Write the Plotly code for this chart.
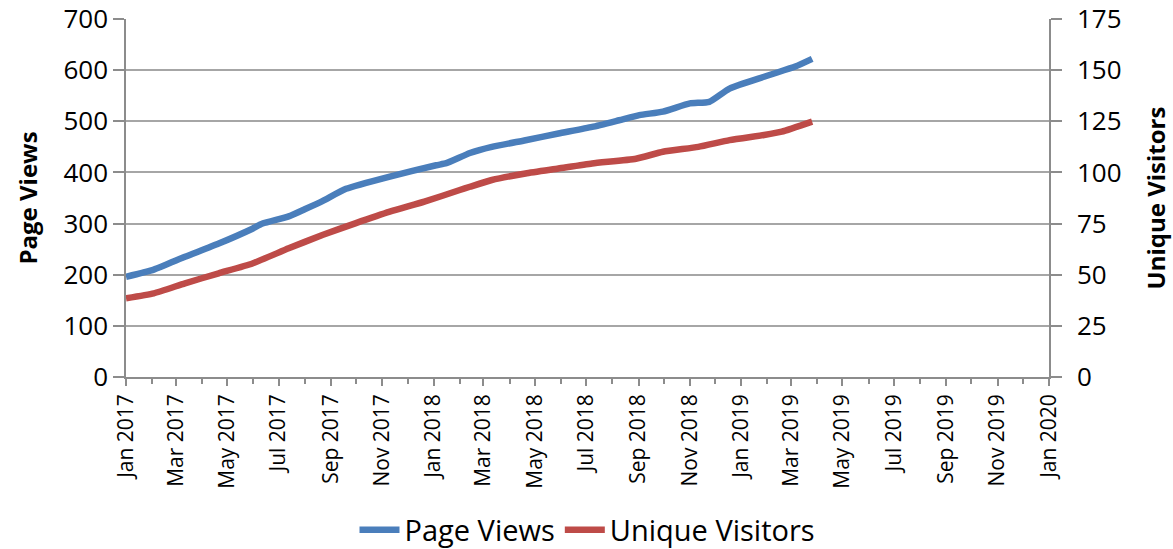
import plotly.graph_objects as go

# ---- data ----
pv_dates = ["2017-01-01", "2017-02-03", "2017-03-12", "2017-04-21", "2017-05-31",
            "2017-06-12", "2017-07-13", "2017-08-01", "2017-08-22", "2017-09-19",
            "2017-11-10", "2018-01-04", "2018-01-16", "2018-02-13", "2018-03-11",
            "2018-04-20", "2018-05-29", "2018-07-08", "2018-08-09", "2018-09-02",
            "2018-09-30", "2018-11-01", "2018-11-24", "2018-12-18", "2019-01-28",
            "2019-02-08", "2019-03-06", "2019-03-26"]
page_views = [196, 210, 235, 261, 290,
              300, 314, 328, 344, 368,
              392, 414, 418, 438, 450,
              463, 476, 489, 502, 512,
              519, 535, 538, 564, 587,
              593, 607, 622]

uv_dates = ["2017-01-01", "2017-02-03", "2017-03-12", "2017-04-21", "2017-05-31",
            "2017-07-13", "2017-08-22", "2017-09-30", "2017-11-10", "2017-12-21",
            "2018-02-01", "2018-02-13", "2018-03-11", "2018-04-20", "2018-05-29",
            "2018-07-08", "2018-08-29", "2018-09-30", "2018-11-11", "2018-12-18",
            "2019-01-28", "2019-02-18", "2019-03-26"]
unique_visitors = [38.5, 40.9, 45.8, 50.7, 55.5,
                   62.9, 69.4, 75.1, 80.8, 85.7,
                   91.4, 93.0, 96.3, 99.5, 101.9,
                   104.4, 106.7, 110.1, 112.5, 115.8,
                   118.3, 119.9, 124.8]

left_ticks = [0, 100, 200, 300, 400, 500, 600, 700]
right_ticks = [0, 25, 50, 75, 100, 125, 150, 175]

FONT = "Open Sans"
BLUE = "#4A7EBB"
RED = "#BE4B48"
GRID = "#A6A6A6"
AXIS = "#8C8C8C"

fig = go.Figure()
fig.add_trace(go.Scatter(x=pv_dates, y=page_views, name="Page Views", mode="lines",
                         line=dict(color=BLUE, width=6.5, shape="spline", smoothing=0.5)))
fig.add_trace(go.Scatter(x=uv_dates, y=unique_visitors, name="Unique Visitors", mode="lines",
                         yaxis="y2",
                         line=dict(color=RED, width=6.5, shape="spline", smoothing=0.5)))

fig.update_layout(
    width=1173, height=549,
    margin=dict(l=126, r=124, t=19, b=172, autoexpand=False),
    paper_bgcolor="white", plot_bgcolor="white",
    font=dict(family=FONT, color="black"),
    showlegend=True,
    legend=dict(orientation="h", x=0.5, xanchor="center", y=-0.427, yanchor="middle",
                font=dict(size=29, family=FONT), itemwidth=40, tracegroupgap=0),
    xaxis=dict(
        type="date", range=["2017-01-01", "2020-01-01"], automargin=False,
        tick0="2017-01-01", dtick="M2", tickformat="%b %Y", tickangle=-90,
        ticks="outside", ticklen=7, tickcolor=AXIS, tickwidth=1.5,
        tickfont=dict(size=21, family=FONT),
        showline=True, linecolor=AXIS, linewidth=1.5,
        showgrid=False, zeroline=False,
        minor=dict(dtick="M1", ticks="outside", ticklen=5, tickcolor=AXIS, tickwidth=1.5, showgrid=False),
    ),
    yaxis=dict(
        range=[0, 700], tickvals=left_ticks, ticks="outside", ticklen=11, automargin=False,
        tickcolor=AXIS, tickwidth=1.5,
        tickfont=dict(size=26, family=FONT),
        showline=True, linecolor=AXIS, linewidth=1.5,
        showgrid=True, gridcolor=GRID, gridwidth=1.5, zeroline=False,
        title=dict(text="<b>Page Views</b>", font=dict(size=24, family=FONT), standoff=19),
    ),
    yaxis2=dict(
        range=[0, 175], tickvals=right_ticks, overlaying="y", side="right", automargin=False,
        ticks="outside", ticklen=11, tickcolor=AXIS, tickwidth=1.5,
        tickfont=dict(size=26, family=FONT), ticklabelstandoff=10,
        showline=True, linecolor=AXIS, linewidth=1.5,
        showgrid=False, zeroline=False,
        title=dict(text="<b>Unique Visitors</b>", font=dict(size=24, family=FONT), standoff=28),
    ),
)

fig.write_html("out.html", config={"displayModeBar": False},
               post_script="document.body.style.margin='0';document.body.style.overflow='hidden';")
